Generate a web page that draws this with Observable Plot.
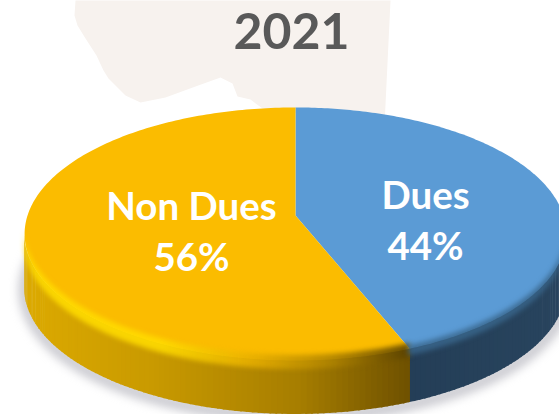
<!DOCTYPE html>
<html>
<head>
<meta charset="utf-8">
<script src="https://cdn.jsdelivr.net/npm/d3@7"></script>
<script src="https://cdn.jsdelivr.net/npm/@observablehq/plot@0.6"></script>
<style>html,body{margin:0;padding:0;background:#fff}svg{display:block}</style>
</head>
<body>
<div id="chart"></div>
<script>
const title = "2021";
const categories = ["Dues", "Non Dues"];
const shares = [44, 56];
const blobX = [75,74,77,85,96,103,108,125,140,165,195,220,232,237,250,262,384,390];
const blobY = [0,15,25,38,55,70,78,95,102,97,86,77,83,96,99,108,125,0];

const faceColors = ["#5b9bd5", "#fbbc00"];
const W = 559, H = 414, CX = 295, AY = 215, K = 0.146, RX = 268, RY = 123.8, DEPTH = 54;

// Perspective projection of the pie disc: angle measured clockwise from the top
function proj(a, dy = 0) {
  const u = Math.sin(a), v = Math.cos(a), d = 1 + K * v;
  return {x: CX + RX * u / d, y: AY - RY * v / d + dy};
}
const total = d3.sum(shares);
const boundary = shares[0] / total * 2 * Math.PI;
const arc = (a0, a1, n = 200, dy = 0) =>
  d3.range(n + 1).map(i => proj(a0 + (a1 - a0) * i / n, dy));
const apex = {x: CX, y: AY};
const faces = [
  [apex, ...arc(0, boundary), apex],
  [apex, ...arc(boundary, 2 * Math.PI), apex]
];

const yellowRamp = d3.scaleLinear()
  .domain([25, 150, 300, 405]).range(["#dcaa00", "#c99a00", "#a67d00", "#705200"]).clamp(true);
const yellowBevel = d3.scaleLinear()
  .domain([25, 160, 250, 330, 405]).range(["#ffdc00", "#ffdc00", "#e8b000", "#b08400", "#5e4500"]).clamp(true);
const blueRamp = d3.scaleLinear()
  .domain([405, 559]).range(["#243e57", "#28445e"]).clamp(true);

// Visible front side of the disc: from the right extreme, around the bottom, to the left extreme
const sideStart = Math.PI / 2 + Math.asin(K), sideEnd = 2 * Math.PI - sideStart;
function strips(top, bot) {
  const out = [], n = 150;
  for (let i = 0; i < n; i++) {
    const a0 = sideStart + (sideEnd - sideStart) * i / n;
    const a1 = sideStart + (sideEnd - sideStart) * (i + 1.3) / n;
    const mid = proj((a0 + a1) / 2);
    const blue = (a0 + a1) / 2 < boundary;
    for (const a of [a0, Math.min(a1, sideEnd)]) {
      const p = proj(a);
      out.push({id: i, x: p.x, y1: p.y + top, y2: p.y + bot, mid, blue});
    }
  }
  return out;
}
const wall = strips(0, DEPTH);
const bevelYellow = strips(-5, 9).filter(d => !d.blue);
const bevelBlue = strips(-3, 7).filter(d => d.blue);

const labelText = categories.map((c, i) => `${c}\n${shares[i]}%`);
const labelX = [425, 191], labelY = [218, 229];

const blob = blobX.map((x, i) => ({x, y: blobY[i]}));
const shadowPts = arc(sideStart - 0.3, sideEnd + 0.3, 200, DEPTH + 2);

const fillFace = (d, fill, extra = {}) =>
  Plot.line(d, {x: "x", y: "y", fill, stroke: "none", ...extra});

const chart = Plot.plot({
  width: W, height: H,
  margin: 0,
  x: {domain: [0, W], range: [0, W], axis: null},
  y: {domain: [0, H], range: [0, H], axis: null},
  color: {type: "identity"},
  style: {background: "#fff", overflow: "hidden"},
  marks: [
    fillFace(blob, "#f7f2ee"),
    Plot.line(shadowPts, {x: "x", y: "y", stroke: "#b4b4bc", strokeWidth: 12, fill: "none", imageFilter: "blur(5px)", strokeOpacity: 0.7}),
    Plot.areaY(wall, {x: "x", y1: "y1", y2: "y2", z: "id",
      fill: d => d.blue ? blueRamp(d.mid.x) : yellowRamp(d.mid.x)}),
    ...faces.map((f, i) => fillFace(f, faceColors[i])),
    Plot.areaY(bevelYellow, {x: "x", y1: "y1", y2: "y2", z: "id",
      fill: d => yellowBevel(d.mid.x), fillOpacity: 0.85, imageFilter: "blur(2.5px)"}),
    Plot.areaY(bevelBlue, {x: "x", y1: "y1", y2: "y2", z: "id",
      fill: () => "#3a668c", fillOpacity: 0.8, imageFilter: "blur(2.5px)"}),
    Plot.text([title], {x: () => 291, y: () => 32, text: d => d, fill: "#595959",
      fontFamily: "Lato", fontWeight: 700, fontSize: 50}),
    Plot.text(labelText, {x: (d, i) => labelX[i], y: (d, i) => labelY[i], text: d => d, fill: "#fff",
      fontFamily: "Lato", fontWeight: 700, fontSize: 38.5, lineHeight: 1.33})
  ]
});
document.getElementById("chart").append(chart);
</script>
</body>
</html>
